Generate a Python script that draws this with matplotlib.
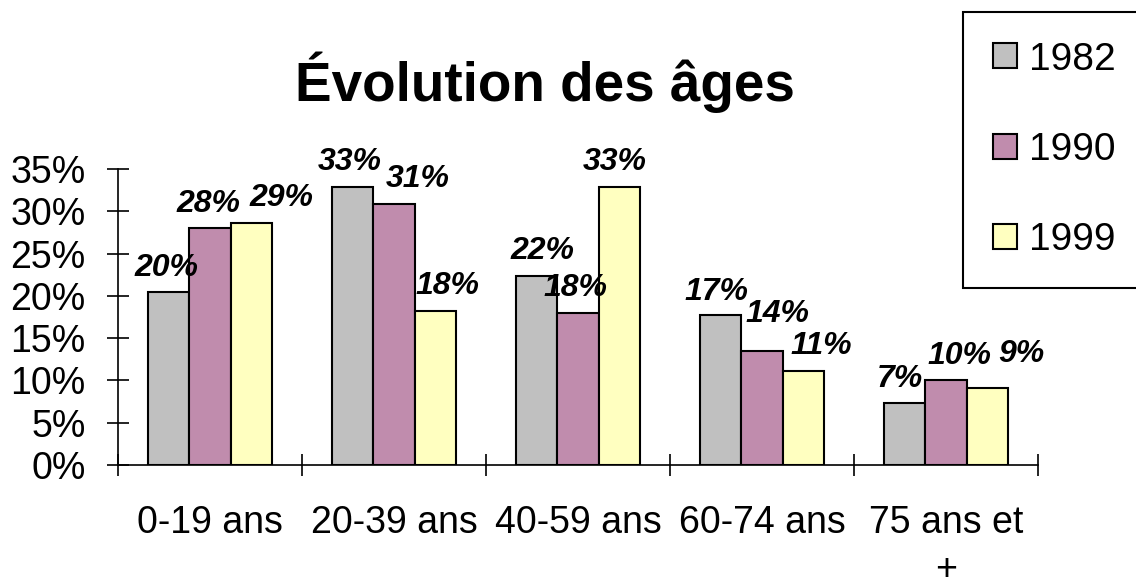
import matplotlib.pyplot as plt
import numpy as np
from matplotlib.ticker import FixedLocator, FuncFormatter

plt.rcParams['font.family'] = ['Liberation Sans', 'DejaVu Sans']

categories = ['0-19 ans', '20-39 ans', '40-59 ans', '60-74 ans', '75 ans et\n+']
years = ['1982', '1990', '1999']
v1982 = [20.4, 32.9, 22.4, 17.7, 7.3]
v1990 = [28.0, 30.9, 18.0, 13.5, 10.0]
v1999 = [28.6, 18.2, 32.9, 11.1, 9.1]
labels1982 = ['20%', '33%', '22%', '17%', '7%']
labels1990 = ['28%', '31%', '18%', '14%', '10%']
labels1999 = ['29%', '18%', '33%', '11%', '9%']

colors = ['#C0C0C0', '#C08CAD', '#FFFFC0']
# label nudges (x, y) in points, excel moved some of them around
nudge = [
    [(-2, 0), (-2, 0), (4, 0), (-3, -1), (-4, 0)],
    [(-1, 0), (17, 0), (-2, 0), (11, 9), (10, 0)],
    [(22, 0), (9, 0), (-3, 0), (13, 0), (25, 7)],
]

fig = plt.figure(figsize=(11.36, 5.79), dpi=100)
ax = fig.add_axes([118 / 1136, 1 - 465 / 579, 920 / 1136, 296 / 579])

x = np.arange(len(categories))
w = 0.223
series = [v1982, v1990, v1999]
texts = [labels1982, labels1990, labels1999]
for i, (vals, col, yr) in enumerate(zip(series, colors, years)):
    bars = ax.bar(x + (i - 1) * w, np.array(vals) / 100, w, color=col,
                  edgecolor='black', linewidth=1.5, label=yr)
    for j, b in enumerate(bars):
        dx, dy = nudge[i][j]
        ax.annotate(texts[i][j], (b.get_x() + b.get_width() / 2, b.get_height()),
                    xytext=(dx, 12 + dy), textcoords='offset points',
                    ha='center', va='baseline', fontsize=23,
                    fontweight='bold', fontstyle='italic')

ax.set_xlim(-0.5, len(categories) - 0.5)
ax.set_ylim(0, 0.35)
ax.set_yticks(np.arange(0, 0.351, 0.05))
ax.yaxis.set_major_formatter(FuncFormatter(lambda v, p: f'{v * 100:.0f}%'))
ax.xaxis.set_major_locator(FixedLocator(np.arange(-0.5, len(categories), 1)))
ax.xaxis.set_major_formatter(FuncFormatter(lambda v, p: ''))
ax.xaxis.set_minor_locator(FixedLocator(x))
ax.set_xticklabels(categories, minor=True)

ax.tick_params(axis='y', which='major', direction='inout', length=16.5,
               width=1.2, labelsize=27, pad=15)
ax.tick_params(axis='x', which='major', direction='inout', length=16.5, width=1.2)
ax.tick_params(axis='x', which='minor', length=0, labelsize=27, pad=29)
for lbl in ax.get_xticklabels(minor=True):
    lbl.set_linespacing(1.4)
    lbl.set_verticalalignment('top')

for s in ['top', 'right']:
    ax.spines[s].set_visible(False)
for s in ['left', 'bottom']:
    ax.spines[s].set_linewidth(1.2)

fig.text(545 / 1136, 1 - 82 / 579, 'Évolution des âges', ha='center', va='center',
         fontsize=39.5, fontweight='bold')

leg = fig.legend(loc='upper left', bbox_to_anchor=(963 / 1136, 1 - 12 / 579),
                 bbox_transform=fig.transFigure, borderaxespad=0, fontsize=28,
                 handlelength=0.62, handleheight=0.62, handletextpad=0.32,
                 borderpad=0.76, labelspacing=1.4, fancybox=False, framealpha=1)
leg.get_frame().set_edgecolor('black')
leg.get_frame().set_linewidth(1.5)

fig.savefig('out.png', dpi=100)
